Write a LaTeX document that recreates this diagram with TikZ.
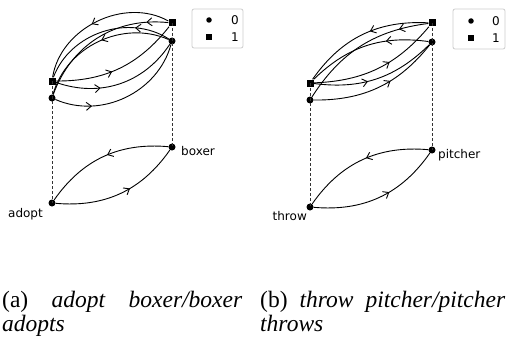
\documentclass[tikz,border=0pt]{standalone}
\usepackage{fontspec}
\setmainfont{Liberation Serif}
\newfontfamily\plotfont{DejaVu Sans}
\usetikzlibrary{arrows.meta,decorations.markings}
\tikzset{
	dot/.style={circle,fill=black,inner sep=0pt,minimum size=7pt},
	sq/.style={rectangle,fill=black,inner sep=0pt,minimum size=7pt},
	legdot/.style={circle,fill=black,inner sep=0pt,minimum size=5.5pt},
	legsq/.style={rectangle,fill=black,inner sep=0pt,minimum size=5.5pt},
	edge/.style={line width=0.9pt},
	midarr/.style={postaction={decorate},decoration={markings,
		mark=at position #1 with {\arrow{Straight Barb[length=5pt,width=8pt,line width=0.9pt]}}}},
	fiber/.style={line width=0.9pt,dash pattern=on 3pt off 2pt,black!80},
	lbl/.style={font=\plotfont\fontsize{12}{14}\selectfont,inner sep=0pt},
	legbox/.style={draw=black!20,line width=0.8pt,rounded corners=2pt},
	capt/.style={inner sep=0pt,align=justify,font=\fontsize{23.5}{24}\selectfont}
}

\begin{document}
\begin{tikzpicture}[x=1pt,y=-1pt]
		%%%%% START %%%%%
		\useasboundingbox (0,0) rectangle (508,345);
		
		% (a) adopt / boxer
		\node[sq] (ar1) at (172,23) {};
		\node[dot] (ar0) at (172,41) {};
		\node[sq] (al1) at (52,81) {};
		\node[dot] (al0) at (52,98) {};
		\node[dot] (adopt) at (52,203) {};
		\node[dot] (boxer) at (172,147) {};
		\node[lbl,anchor=base east] (adoptlbl) at (43,217) {adopt};
		\node[lbl,anchor=base west] (boxerlbl) at (181,155) {boxer};
		
		\draw[fiber] (al1.center) -- (adopt.center);
		\draw[fiber] (ar1.center) -- (boxer.center);
		
		\draw[edge,midarr=0.54] (ar1) to[bend right=55] (al1);
		\draw[edge,midarr=0.15] (ar1) to[bend right=38] (al0);
		\draw[edge,midarr=0.26] (ar0) to[bend right=51] (al1);
		\draw[edge,midarr=0.48] (ar0) to[bend right=49] (al0);
		\draw[edge,midarr=0.44] (al1) to[bend right=26] (ar1);
		\draw[edge,midarr=0.35] (al1) to[bend right=38] (ar0);
		\draw[edge,midarr=0.26] (al0) to[bend right=49] (ar0);
		
		\draw[edge,midarr=0.58] (adopt) to[bend right=30] (boxer);
		\draw[edge,midarr=0.47] (boxer) to[bend right=30] (adopt);
		
		\draw[legbox] (192,9) rectangle (243,48);
		\node[legdot] (alegdot) at (209,20) {};
		\node[lbl] (alegzero) at (235,20) {0};
		\node[legsq] (alegsq) at (209,37) {};
		\node[lbl] (alegone) at (235,37) {1};
		
		% (b) throw / pitcher
		\node[sq] (br1) at (432,23) {};
		\node[dot] (br0) at (432,42) {};
		\node[sq] (bl1) at (310,83) {};
		\node[dot] (bl0) at (310,100) {};
		\node[dot] (throw) at (310,207) {};
		\node[dot] (pitcher) at (432,150) {};
		\node[lbl,anchor=base east] (throwlbl) at (307,220) {throw};
		\node[lbl,anchor=base west] (pitcherlbl) at (438,158) {pitcher};
		
		\draw[fiber] (bl1.center) -- (throw.center);
		\draw[fiber] (br1.center) -- (pitcher.center);
		
		\draw[edge,midarr=0.44] (br1) to[bend right=29] (bl1);
		\draw[edge,midarr=0.21] (br1) to[bend right=25] (bl0);
		\draw[edge,midarr=0.34] (br0) to[bend right=26] (bl1);
		\draw[edge,midarr=0.6] (bl1) to[bend right=24] (br1);
		\draw[edge,midarr=0.43] (bl1) to[bend right=26] (br0);
		\draw[edge,midarr=0.6] (bl0) to[bend right=26] (br0);
		
		\draw[edge,midarr=0.58] (throw) to[bend right=30] (pitcher);
		\draw[edge,midarr=0.47] (pitcher) to[bend right=30] (throw);
		
		\draw[legbox] (453,9) rectangle (505,49);
		\node[legdot] (blegdot) at (471,21) {};
		\node[lbl] (blegzero) at (496,21) {0};
		\node[legsq] (blegsq) at (471,38) {};
		\node[lbl] (blegone) at (496,38) {1};
		
		% captions
		\node[capt,text width=240pt,anchor=base west] (capta) at (2,307)
			{\hyphenpenalty=10000 (a) \textit{adopt boxer/boxer adopts}};
		\node[capt,text width=245pt,anchor=base west] (captb) at (260,307)
			{\hyphenpenalty=10000 (b) \textit{throw pitcher/pitcher throws}};
		%%%%% END %%%%%
\end{tikzpicture}
\end{document}
